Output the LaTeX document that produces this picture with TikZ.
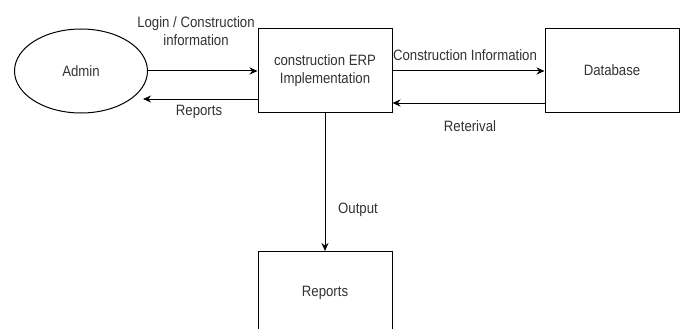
\documentclass[tikz,border=0pt]{standalone}
\usepackage{fontspec}
\setmainfont{Liberation Sans}[FakeStretch=0.88]
\usetikzlibrary{shapes.geometric,arrows.meta}
\begin{document}
\begin{tikzpicture}[x=1pt,y=-1pt,
  every node/.style={font=\fontsize{15}{18}\selectfont, text=black!80},
  boxn/.style={draw, line width=1pt, minimum width=134pt, minimum height=83pt, inner sep=0pt},
  flow/.style={line width=1pt, -{Stealth[length=8pt,width=7pt]}},
  lbl/.style={inner sep=0pt, align=center}]
\useasboundingbox (0,0) rectangle (683,329);
\clip (0,0) rectangle (683,329);
\fill[white] (0,0) rectangle (683,329);
\node[draw, ellipse, line width=1pt, minimum width=133pt, minimum height=84pt, inner sep=0pt] (admin) at (81,71) {Admin};
\node[boxn, align=center] (erp) at (325,70.5) {construction ERP\\Implementation};
\node[boxn] (db) at (612,70.5) {Database};
\node[draw, line width=1pt, minimum width=134pt, minimum height=90pt, inner sep=0pt, anchor=north] (rep) at (325,251) {};
\node[lbl] (reptext) at (325,293) {Reports};
\coordinate (repend) at (143,99);
\draw[flow] (admin.east) -- (erp.west |- admin.east);
\draw[flow] (erp.west |- repend) -- (repend);
\draw[flow] (erp.east |- 0,71) -- (db.west |- 0,71);
\draw[flow] (db.west |- 0,103) -- (erp.east |- 0,103);
\draw[flow] (erp.south) -- (rep.north);
\node[lbl] (l1) at (196,31) {Login / Construction\\information};
\node[lbl] (l2) at (199,112) {Reports};
\node[lbl] (l3) at (465,55) {Construction Information};
\node[lbl] (l4) at (470,126) {Reterival};
\node[lbl] (l5) at (358,210) {Output};
\end{tikzpicture}
\end{document}
